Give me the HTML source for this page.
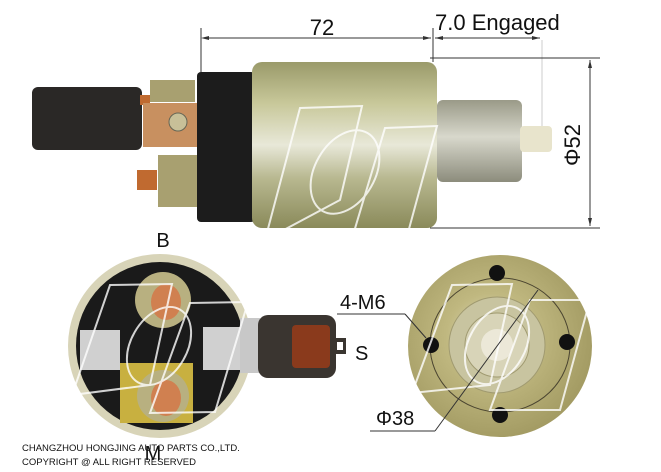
<!DOCTYPE html>
<html><head><style>
html,body{margin:0;padding:0;background:#fff;}
svg{display:block;font-family:"Liberation Sans",sans-serif;}
</style></head><body>
<svg width="661" height="472" viewBox="0 0 661 472" xmlns="http://www.w3.org/2000/svg">
<defs>
<linearGradient id="body" x1="0" y1="0" x2="0" y2="1">
<stop offset="0" stop-color="#9a9a6a"/><stop offset="0.25" stop-color="#c8c89a"/><stop offset="0.5" stop-color="#e8e8d8"/><stop offset="0.7" stop-color="#b8b890"/><stop offset="1" stop-color="#8a8a5a"/>
</linearGradient>
<linearGradient id="plg" x1="0" y1="0" x2="0" y2="1">
<stop offset="0" stop-color="#9a9a88"/><stop offset="0.45" stop-color="#d8d8cc"/><stop offset="1" stop-color="#8c8c7c"/>
</linearGradient>
<radialGradient id="disc" cx="0.45" cy="0.45" r="0.6">
<stop offset="0" stop-color="#e0dcc0"/><stop offset="0.4" stop-color="#c0b880"/><stop offset="1" stop-color="#a09860"/>
</radialGradient>
</defs>
<g stroke="#333" stroke-width="1" fill="none">
<line x1="201" y1="28" x2="201" y2="75"/>
<line x1="433" y1="28" x2="433" y2="62"/>
<line x1="542" y1="40" x2="542" y2="130" stroke="#ccc"/>
<line x1="203" y1="38" x2="431" y2="38"/>
<line x1="435" y1="38" x2="540" y2="38"/>
<line x1="430" y1="58" x2="600" y2="58"/>
<line x1="430" y1="228" x2="600" y2="228"/>
<line x1="590" y1="60" x2="590" y2="226"/>
</g>
<g fill="#333">
<polygon points="201,38 209,36 209,40"/><polygon points="431,38 423,36 423,40"/>
<polygon points="435,38 443,36 443,40"/><polygon points="540,38 532,36 532,40"/>
<polygon points="590,60 588,68 592,68"/><polygon points="590,226 588,218 592,218"/>
</g>
<text x="322" y="35" font-size="22" text-anchor="middle" fill="#111">72</text>
<text x="435" y="30" font-size="22" fill="#111">7.0 Engaged</text>
<text transform="translate(580,145) rotate(-90)" font-size="22" text-anchor="middle" fill="#111">Φ52</text>
<!-- top solenoid -->
<rect x="32" y="87" width="110" height="63" rx="6" fill="#2a2826"/>
<rect x="140" y="95" width="10" height="10" fill="#c06a30"/>
<rect x="143" y="103" width="58" height="44" fill="#c89060"/>
<circle cx="178" cy="122" r="9" fill="#c8c098" stroke="#665" />
<rect x="150" y="80" width="45" height="22" fill="#a8a070"/>
<rect x="158" y="155" width="45" height="52" fill="#a8a070"/>
<rect x="137" y="170" width="20" height="20" fill="#c06a30"/>
<rect x="197" y="72" width="58" height="150" rx="4" fill="#1c1c1c"/>
<rect x="252" y="62" width="185" height="166" rx="10" fill="url(#body)"/>
<rect x="437" y="100" width="85" height="82" rx="6" fill="url(#plg)"/>
<rect x="520" y="126" width="32" height="26" rx="4" fill="#e8e4cc"/>
<g fill="none" stroke="#fff" stroke-width="2" opacity="0.8">
<path d="M300,108 L362,106 L340,200 L265,240 Z"/>
<path d="M385,128 L437,126 L400,262 L345,262 Z"/>
<ellipse cx="345" cy="172" rx="30" ry="45" transform="rotate(30 345 172)"/>
</g>
<!-- bottom left disc -->
<text x="163" y="247" font-size="20" text-anchor="middle" fill="#111">B</text>
<circle cx="160" cy="346" r="92" fill="#d8d4b8"/>
<circle cx="160" cy="346" r="84" fill="#1a1a1a"/>
<rect x="120" y="363" width="73" height="60" fill="#c8b040"/>
<circle cx="163" cy="300" r="28" fill="#b8b080"/>
<ellipse cx="166" cy="302" rx="15" ry="18" fill="#d08050"/>
<circle cx="163" cy="396" r="26" fill="#b8b080"/>
<ellipse cx="166" cy="398" rx="15" ry="18" fill="#d08050"/>
<rect x="80" y="330" width="40" height="40" fill="#d0d0d0"/>
<rect x="203" y="327" width="37" height="43" fill="#d0d0d0"/>
<rect x="240" y="318" width="20" height="55" fill="#c8c8c8"/>
<rect x="258" y="315" width="78" height="63" rx="10" fill="#3a3530"/>
<rect x="292" y="325" width="38" height="43" rx="4" fill="#8a3a1c"/>
<rect x="334" y="338" width="12" height="16" fill="#3a3530"/>
<rect x="337" y="342" width="6" height="8" fill="#fff"/>
<text x="355" y="360" font-size="20" fill="#111">S</text>
<text x="153" y="460" font-size="20" text-anchor="middle" fill="#111">M</text>
<!-- bottom right disc -->
<ellipse cx="500" cy="346" rx="92" ry="91" fill="url(#disc)"/>
<ellipse cx="500" cy="345" rx="70" ry="67" fill="none" stroke="#4a4430"/>
<circle cx="497" cy="345" r="48" fill="#c8c4a0" stroke="#a09a70"/>
<circle cx="497" cy="345" r="32" fill="#d8d4b8" stroke="#a09a70"/>
<circle cx="497" cy="345" r="16" fill="#ece8d8"/>
<circle cx="497" cy="273" r="8" fill="#111"/>
<circle cx="500" cy="415" r="8" fill="#111"/>
<circle cx="431" cy="345" r="8" fill="#111"/>
<circle cx="567" cy="342" r="8" fill="#111"/>
<g fill="none" stroke="#fff" stroke-width="2" opacity="0.8">
<path d="M110,285 L172,284 L150,385 L72,395 Z"/>
<path d="M190,303 L248,302 L215,412 L150,413 Z"/>
<path d="M452,285 L512,284 L490,385 L412,393 Z"/>
<path d="M530,300 L590,300 L560,410 L490,410 Z"/>
<ellipse cx="159" cy="346" rx="28" ry="42" transform="rotate(30 159 346)"/>
<ellipse cx="497" cy="345" rx="28" ry="42" transform="rotate(30 497 345)"/>
</g>
<text x="340" y="309" font-size="20" fill="#111">4-M6</text>
<line x1="337" y1="314" x2="405" y2="314" stroke="#333"/>
<line x1="405" y1="314" x2="426" y2="338" stroke="#333"/>
<text x="376" y="425" font-size="20" fill="#111">Φ38</text>
<line x1="370" y1="431" x2="435" y2="431" stroke="#333"/>
<line x1="435" y1="431" x2="538" y2="290" stroke="#333"/>
<text x="22" y="451" font-size="9.5" fill="#111">CHANGZHOU HONGJING AUTO PARTS CO.,LTD.</text>
<text x="22" y="465" font-size="9.5" fill="#111">COPYRIGHT @ ALL RIGHT RESERVED</text>
</svg>
</body></html>
